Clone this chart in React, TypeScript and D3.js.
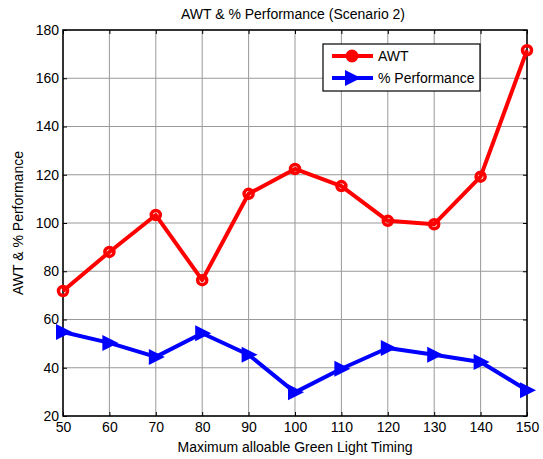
import React, { useEffect, useRef } from 'react';
import * as d3 from 'd3';

// data
const greenTiming = [50, 60, 70, 80, 90, 100, 110, 120, 130, 140, 150];
const awt = [71.8, 88, 103.3, 76.3, 112.1, 122.4, 115.3, 100.9, 99.5, 119.2, 171.6];
const performance = [54.8, 50.3, 44.5, 54.3, 45.4, 29.8, 39.6, 48.2, 45.4, 42.4, 30.7];
const yTicks = [20, 40, 60, 80, 100, 120, 140, 160, 180];
const seriesNames = ['AWT', '% Performance'];

const W = 543;
const H = 459;
const FONT = 'Liberation Sans, Arial, sans-serif';

export default function App() {
  const svgRef = useRef<SVGSVGElement>(null);

  useEffect(() => {
    if (!svgRef.current) return;
    const svg = d3.select(svgRef.current);
    svg.selectAll('*').remove();

    const margin = { top: 30, right: 16, bottom: 43, left: 63 };
    const x = d3.scaleLinear().domain([50, 150]).range([margin.left, W - margin.right]);
    const y = d3.scaleLinear().domain([20, 180]).range([H - margin.bottom, margin.top]);
    const [x0, x1] = x.range();
    const [y0, y1] = y.range();

    svg.append('rect').attr('width', W).attr('height', H).attr('fill', '#fff');

    // grid
    const grid = svg.append('g').attr('stroke', '#999').attr('stroke-width', 1);
    grid.selectAll('.gx')
      .data(greenTiming)
      .enter()
      .append('line')
      .attr('x1', (d) => x(d))
      .attr('x2', (d) => x(d))
      .attr('y1', y0)
      .attr('y2', y1);
    grid.selectAll('.gy')
      .data(yTicks)
      .enter()
      .append('line')
      .attr('x1', x0)
      .attr('x2', x1)
      .attr('y1', (d) => y(d))
      .attr('y2', (d) => y(d));

    // axes with inward ticks on all four sides
    const tickFont = (g: any) => g.style('font-family', FONT).style('font-size', '14px');
    svg.append('g')
      .attr('transform', `translate(0,${y0})`)
      .call(d3.axisBottom(x).tickValues(greenTiming).tickSizeInner(-4).tickSizeOuter(0).tickPadding(6))
      .call(tickFont)
      .call((g: any) => g.select('.domain').remove())
      .selectAll('text').attr('fill', '#000');
    svg.append('g')
      .attr('transform', `translate(0,${y1})`)
      .call(d3.axisTop(x).tickValues(greenTiming).tickSizeInner(-4).tickSizeOuter(0).tickFormat(() => ''))
      .call((g: any) => g.select('.domain').remove());
    svg.append('g')
      .attr('transform', `translate(${x0},0)`)
      .call(d3.axisLeft(y).tickValues(yTicks).tickSizeInner(-4).tickSizeOuter(0).tickPadding(4))
      .call(tickFont)
      .call((g: any) => g.select('.domain').remove())
      .selectAll('text').attr('fill', '#000');
    svg.append('g')
      .attr('transform', `translate(${x1},0)`)
      .call(d3.axisRight(y).tickValues(yTicks).tickSizeInner(-4).tickSizeOuter(0).tickFormat(() => ''))
      .call((g: any) => g.select('.domain').remove());

    svg.append('rect')
      .attr('x', x0)
      .attr('y', y1)
      .attr('width', x1 - x0)
      .attr('height', y0 - y1)
      .attr('fill', 'none')
      .attr('stroke', '#000')
      .attr('stroke-width', 1.5);

    // lines
    const line = d3.line<number>().x((_, i) => x(greenTiming[i])).y((d) => y(d));
    svg.append('path')
      .attr('d', line(awt) || '')
      .attr('fill', 'none')
      .attr('stroke', '#ff0000')
      .attr('stroke-width', 4)
      .attr('stroke-linejoin', 'round');
    svg.append('path')
      .attr('d', line(performance) || '')
      .attr('fill', 'none')
      .attr('stroke', '#0000ff')
      .attr('stroke-width', 4)
      .attr('stroke-linejoin', 'round');

    const circle = (g: any, cx: number, cy: number) =>
      g.append('circle')
        .attr('cx', cx)
        .attr('cy', cy)
        .attr('r', 4.5)
        .attr('fill', 'none')
        .attr('stroke', '#ff0000')
        .attr('stroke-width', 3.5);
    const tri = (g: any, cx: number, cy: number) =>
      g.append('path')
        .attr('d', `M${cx - 7},${cy - 8}L${cx + 9},${cy}L${cx - 7},${cy + 8}Z`)
        .attr('fill', '#0000ff');

    awt.forEach((v, i) => circle(svg, x(greenTiming[i]), y(v)));
    performance.forEach((v, i) => tri(svg, x(greenTiming[i]), y(v)));

    // legend
    const lg = svg.append('g');
    lg.append('rect')
      .attr('x', 323)
      .attr('y', 44)
      .attr('width', 157)
      .attr('height', 47)
      .attr('fill', '#fff')
      .attr('stroke', '#000')
      .attr('stroke-width', 1.2);
    const rows = [
      { name: seriesNames[0], color: '#ff0000', yy: 56 },
      { name: seriesNames[1], color: '#0000ff', yy: 78 },
    ];
    rows.forEach((r, i) => {
      lg.append('line')
        .attr('x1', 332)
        .attr('x2', 373)
        .attr('y1', r.yy)
        .attr('y2', r.yy)
        .attr('stroke', r.color)
        .attr('stroke-width', 4);
      if (i === 0) {
        lg.append('circle').attr('cx', 352).attr('cy', r.yy).attr('r', 5).attr('fill', '#ff0000').attr('stroke', '#ff0000').attr('stroke-width', 3);
      } else {
        tri(lg, 352, r.yy);
      }
      lg.append('text')
        .attr('x', 378)
        .attr('y', r.yy + 5)
        .style('font-family', FONT)
        .style('font-size', '14px')
        .text(r.name);
    });

    // titles
    svg.append('text')
      .attr('x', (x0 + x1) / 2 - 2)
      .attr('y', 19)
      .attr('text-anchor', 'middle')
      .style('font-family', FONT)
      .style('font-size', '14px')
      .text('AWT & % Performance (Scenario 2)');
    svg.append('text')
      .attr('x', (x0 + x1) / 2)
      .attr('y', 452)
      .attr('text-anchor', 'middle')
      .style('font-family', FONT)
      .style('font-size', '14px')
      .text('Maximum alloable Green Light Timing');
    svg.append('text')
      .attr('transform', `translate(23,${(y0 + y1) / 2}) rotate(-90)`)
      .attr('text-anchor', 'middle')
      .style('font-family', FONT)
      .style('font-size', '14px')
      .text('AWT & % Performance');
  }, []);

  return (
    <div style={{ position: 'absolute', left: 0, top: 0 }}>
      <svg ref={svgRef} width={W} height={H} style={{ display: 'block' }} />
    </div>
  );
}
